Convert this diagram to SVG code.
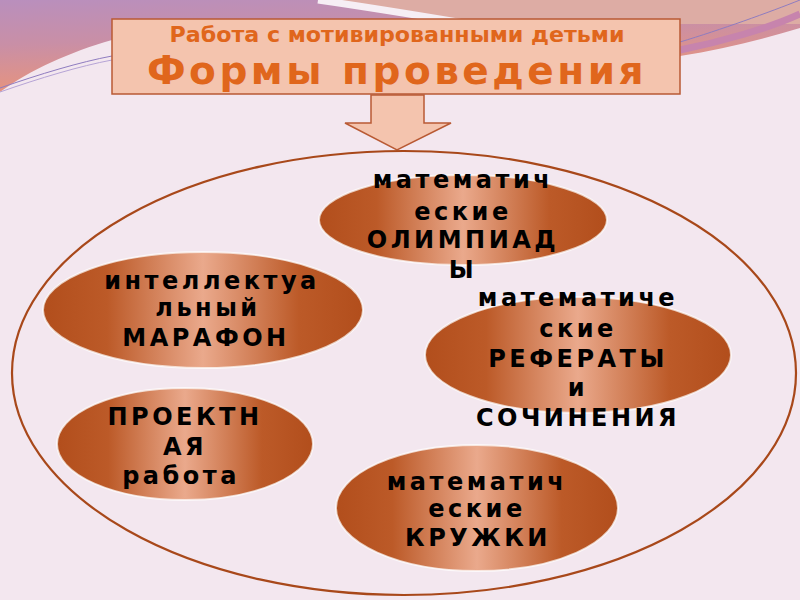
<svg xmlns="http://www.w3.org/2000/svg" width="800" height="600" viewBox="0 0 800 600">
<defs>
<linearGradient id="bgTop" x1="0" y1="0" x2="0.3" y2="1">
<stop offset="0" stop-color="#b98fbd"/>
<stop offset="0.45" stop-color="#c98fa6"/>
<stop offset="1" stop-color="#eb9478"/>
</linearGradient>
<linearGradient id="copper" x1="0" y1="0" x2="1" y2="0">
<stop offset="0" stop-color="#b24e1c"/>
<stop offset="0.2" stop-color="#bc5a28"/>
<stop offset="0.5" stop-color="#eaa98c"/>
<stop offset="0.8" stop-color="#bc5a28"/>
<stop offset="1" stop-color="#b24e1c"/>
</linearGradient>
<style>
.node ellipse{fill:url(#copper);stroke:#fff;stroke-opacity:0.7;stroke-width:2}
.lbl{font-family:"DejaVu Sans","Liberation Sans",sans-serif;font-weight:bold;font-size:24px;letter-spacing:3.5px;fill:#000;text-anchor:middle}
.t1{font-family:"DejaVu Sans","Liberation Sans",sans-serif;font-weight:bold;font-size:21px;fill:#e0661c;text-anchor:middle}
.t2{font-family:"DejaVu Sans","Liberation Sans",sans-serif;font-weight:bold;font-size:39px;fill:#e0661c;text-anchor:middle;letter-spacing:3.5px}
</style>
</defs>
<rect width="800" height="600" fill="#f3e7ef"/>
<g id="background">
<path d="M0,0 H800 V28 C760,40 720,50 680,56 L112,40 C70,52 30,70 0,92 Z" fill="url(#bgTop)"/>
<path d="M318,0 C360,6 410,14 470,24 L800,24 V0 Z" fill="#ddaca4"/>
<path d="M318,0 C360,6 410,14 470,24" fill="none" stroke="#f6eef4" stroke-width="7"/>
<path d="M680,50 C720,42 770,28 800,14" fill="none" stroke="#c784ad" stroke-width="7"/>
<path d="M0,88 C40,74 80,62 112,56" fill="none" stroke="#8f7cc0" stroke-width="1"/>
<path d="M0,92 C40,78 80,66 112,60" fill="none" stroke="#b6a4d6" stroke-width="1"/>
<path d="M680,42 C720,30 770,12 800,0" fill="none" stroke="#8f7cc0" stroke-width="1"/>
</g>
<g id="title">
<rect x="112" y="19" width="568" height="75" fill="#f4c4ae" stroke="#b95a34" stroke-width="1.5"/>
<text class="t1" x="397" y="42" textLength="455" lengthAdjust="spacingAndGlyphs">Работа с мотивированными детьми</text>
<text class="t2" x="397" y="84">Формы проведения</text>
</g>
<g id="connectors">
<path d="M371,95 H424 V123 H451 L397,150 L345,123 H371 Z" fill="#f4c4ae" stroke="#b95a34" stroke-width="1.5"/>
</g>
<g id="container">
<ellipse cx="404" cy="373" rx="392" ry="222" fill="none" stroke="#a8481a" stroke-width="2.2"/>
</g>
<g id="olympiads" class="node">
<ellipse cx="463" cy="220" rx="144" ry="45"/>
<text class="lbl" x="463" y="188">математич</text>
<text class="lbl" x="463" y="220">еские</text>
<text class="lbl" x="463" y="248">ОЛИМПИАД</text>
<text class="lbl" x="463" y="278">Ы</text>
</g>
<g id="marathon" class="node">
<ellipse cx="203" cy="310" rx="160" ry="58"/>
<text class="lbl" x="212" y="289">интеллектуа</text>
<text class="lbl" x="208" y="316">льный</text>
<text class="lbl" x="206" y="346">МАРАФОН</text>
</g>
<g id="project" class="node">
<ellipse cx="185" cy="444" rx="128" ry="56"/>
<text class="lbl" x="185" y="425">ПРОЕКТН</text>
<text class="lbl" x="185" y="455">АЯ</text>
<text class="lbl" x="181" y="484">работа</text>
</g>
<g id="essays" class="node">
<ellipse cx="578" cy="355" rx="153" ry="58"/>
<text class="lbl" x="578" y="306">математиче</text>
<text class="lbl" x="578" y="337">ские</text>
<text class="lbl" x="578" y="367">РЕФЕРАТЫ</text>
<text class="lbl" x="578" y="396">и</text>
<text class="lbl" x="578" y="426">СОЧИНЕНИЯ</text>
</g>
<g id="clubs" class="node">
<ellipse cx="477" cy="508" rx="141" ry="63"/>
<text class="lbl" x="477" y="490">математич</text>
<text class="lbl" x="477" y="517">еские</text>
<text class="lbl" x="478" y="546">КРУЖКИ</text>
</g>
</svg>
